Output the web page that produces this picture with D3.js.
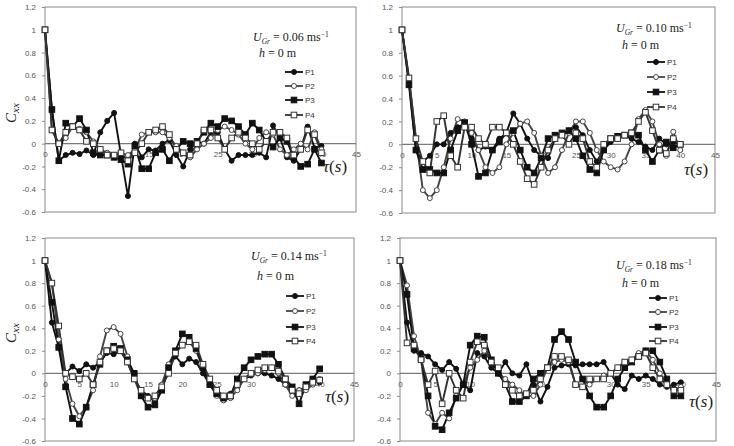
<!DOCTYPE html>
<html>
<head>
<meta charset="utf-8">
<script src="https://cdnjs.cloudflare.com/ajax/libs/d3/7.8.5/d3.min.js"></script>
<style>
body { margin: 0; background: #fff; }
.tick text { font-family: "Liberation Sans", Arial, sans-serif; font-size: 8px; fill: #555; }
</style>
</head>
<body>
<div id="chart"></div>
<script>
// lag times (s) and axis ticks
var tau = [0,1,2,3,4,5,6,7,8,9,10,11,12,13,14,15,16,17,18,19,20,
           21,22,23,24,25,26,27,28,29,30,31,32,33,34,35,36,37,38,39,40];
var xTicks = [0, 5, 10, 15, 20, 25, 30, 35, 40, 45];
var yTicks = [-0.6, -0.4, -0.2, 0, 0.2, 0.4, 0.6, 0.8, 1, 1.2];
var probes = ["P1", "P2", "P3", "P4"];
var speeds = ["0.06", "0.10", "0.14", "0.18"];

// U = 0.06 m/s
var p1_006 = [1,0.3,-0.15,-0.1,-0.08,-0.09,-0.06,-0.1,0.1,0.2,0.27,-0.1,-0.46,0,-0.12,-0.05,-0.06,0,0.03,-0.1,-0.2,-0.05,0.02,0,0.1,0.1,-0.05,-0.15,-0.1,-0.1,-0.1,-0.08,-0.12,0.16,0.05,-0.12,-0.15,-0.05,0.15,-0.04,-0.02];
var p2_006 = [1,0.12,0,0.05,0.15,0.13,0.1,0.02,-0.05,-0.08,-0.1,-0.08,-0.1,-0.05,0.08,0.1,0.1,0.1,0.05,-0.02,-0.08,-0.12,-0.05,0,0.05,0.12,0.15,0.12,0.08,0,-0.05,0.05,0.1,0.08,-0.05,-0.1,-0.05,0,-0.05,0.1,-0.05];
var p3_006 = [1,0.3,-0.15,0.18,0.15,0.22,0.12,-0.08,-0.1,-0.1,-0.12,-0.14,-0.18,-0.02,-0.22,-0.22,-0.08,-0.05,-0.15,-0.05,0.02,0,0.02,0.1,0.18,0.15,0.22,0.2,0.15,0.08,0.18,0.12,0.02,-0.03,0.05,0.02,-0.12,-0.2,-0.18,-0.05,-0.17];
var p4_006 = [1,0.12,0,0.1,0.15,0.12,0.02,0,-0.05,-0.1,-0.1,-0.08,-0.15,-0.08,0,0.1,0.12,0.15,0.08,-0.05,-0.08,-0.1,0,0.12,0.12,0.05,-0.05,0.05,0.1,0.05,0,-0.05,0.02,0.1,0.1,0.05,-0.1,-0.05,0.12,0.08,-0.08];

// U = 0.10 m/s
var p1_010 = [1,0.55,-0.05,-0.15,-0.1,0,0,0.1,0.15,0.18,0.05,-0.05,-0.02,-0.05,0.05,0.1,0.27,0.18,0.05,-0.05,-0.1,-0.12,0.05,0.08,0.12,0.15,0.08,-0.05,-0.15,-0.05,0.02,0.05,0.08,0.05,0.02,-0.02,-0.05,0.05,0,0.02,0];
var p2_010 = [1,0.58,0.05,-0.4,-0.47,-0.4,-0.2,0.05,0.22,0.2,0.1,-0.05,-0.2,-0.25,-0.2,0,0.1,0.18,0.2,0.1,-0.1,-0.25,-0.2,-0.05,0.1,0.2,0.2,0.1,-0.05,-0.15,-0.2,-0.22,-0.15,0,0.22,0.3,0.2,0,-0.1,0.11,-0.05];
var p3_010 = [1,0.52,-0.05,-0.22,-0.22,-0.25,-0.25,-0.05,0.12,0.19,0,-0.28,-0.25,-0.05,0.02,0.1,0.12,-0.05,-0.2,-0.25,-0.12,0.05,0.08,0.1,0.12,0.05,-0.1,-0.22,-0.25,-0.05,0.05,0.07,0.08,0.1,0.08,-0.05,-0.15,-0.05,0.02,-0.03,0];
var p4_010 = [1,0.58,0.05,-0.15,-0.25,0.2,0.25,-0.1,-0.2,0.15,0.15,0.05,0,0.15,0.15,0.1,0,-0.15,-0.3,-0.35,-0.2,-0.05,0.05,0.08,0,0.1,0.05,-0.15,-0.2,0,0.05,0.05,0.08,0.1,0.2,0.28,0.12,-0.05,-0.08,0.05,0];

// U = 0.14 m/s
var p1_014 = [1,0.45,0.23,0,0.06,0.02,0.08,0.05,0.1,0.18,0.17,0.2,0.1,-0.05,-0.15,-0.2,-0.25,-0.15,0.05,0.15,0.08,0.13,0.1,0,-0.1,-0.15,-0.2,-0.18,-0.12,-0.05,-0.02,0,0,-0.02,-0.05,-0.1,-0.15,-0.15,-0.12,-0.05,-0.08];
var p2_014 = [1,0.8,0.3,-0.05,-0.27,-0.38,-0.3,-0.15,0.15,0.38,0.41,0.35,0.15,-0.05,-0.2,-0.22,-0.22,-0.1,0.08,0.2,0.25,0.28,0.2,0.05,-0.1,-0.2,-0.24,-0.22,-0.15,-0.05,0,0,0.03,0.05,0,-0.1,-0.2,-0.15,-0.15,-0.1,-0.05];
var p3_014 = [1,0.63,0.23,-0.12,-0.4,-0.45,-0.3,-0.1,0.08,0.2,0.24,0.22,0.12,0,-0.2,-0.3,-0.28,-0.15,0.05,0.2,0.35,0.32,0.22,0.05,-0.1,-0.18,-0.22,-0.2,-0.05,0.05,0.12,0.15,0.17,0.17,0.08,-0.05,-0.12,-0.27,-0.1,-0.05,0.04];
var p4_014 = [1,0.8,0.42,0,-0.03,-0.05,0,-0.1,0.1,0.2,0.22,0.2,0.1,-0.05,-0.15,-0.22,-0.2,-0.12,0,0.18,0.25,0.28,0.25,0.08,-0.05,-0.15,-0.2,-0.2,-0.1,-0.05,0,0.03,0.05,0.05,0.02,-0.05,-0.15,-0.18,-0.12,-0.08,-0.06];

// U = 0.18 m/s
var p1_018 = [1,0.45,0.2,0.18,0.15,0.08,0.03,0.1,0.04,-0.1,-0.15,0.18,0.15,0.05,0,0.1,0,-0.02,0.08,-0.1,-0.25,-0.12,0.05,0.07,0.08,0.07,0.08,0.08,0.08,0.1,0,-0.1,-0.14,-0.02,-0.05,-0.02,-0.05,-0.1,-0.12,-0.1,-0.08];
var p2_018 = [1,0.78,0.33,0.12,-0.35,-0.45,-0.35,-0.4,-0.2,-0.1,0.05,0.12,0.2,0.1,0,-0.05,-0.1,-0.15,-0.2,-0.2,-0.1,0.05,0.1,0.12,0.1,-0.1,-0.12,-0.1,-0.05,-0.02,0,0.05,0.1,0.12,0.18,0.2,0.12,0,-0.1,-0.15,-0.12];
var p3_018 = [1,0.7,0.22,0.13,-0.2,-0.47,-0.5,-0.35,-0.22,-0.1,0.25,0.33,0.32,0.12,0,-0.1,-0.25,-0.25,-0.2,-0.05,0,0.05,0.3,0.37,0.3,0.1,-0.05,-0.2,-0.3,-0.3,-0.2,-0.05,0.05,0.1,0.15,0.2,0.2,0.1,-0.05,-0.2,-0.2];
var p4_018 = [1,0.27,0.25,0.12,-0.1,0.02,-0.27,0,-0.15,-0.22,0.1,0.28,0.25,0.1,0.05,-0.1,-0.15,-0.2,-0.18,-0.15,-0.05,0.05,0.15,0.15,0.12,-0.1,-0.12,-0.05,-0.05,-0.05,0,0.05,0.1,0.12,0.15,0.18,0.05,-0.05,-0.1,-0.15,-0.15];

var svg = d3.select("#chart")
  .append("svg")
  .attr("width", 734)
  .attr("height", 446)
  .style("background", "#fff");

// panel geometry (plot box + text positions)
var panels = [
  {speed: speeds[0], series: [p1_006, p2_006, p3_006, p4_006],
   x0: 45, x1: 356, y0: 7, y1: 212, lblX: 16, lblY: 113, clip: null,
   ux: 253, uy: 41, hy: 57, legX: 285, legY: [72, 86, 100, 115], tauX: 323, tauY: 172},
  {speed: speeds[1], series: [p1_010, p2_010, p3_010, p4_010],
   x0: 402, x1: 715, y0: 7, y1: 213, lblX: 364, lblY: 113, clip: 366,
   ux: 616, uy: 32, hy: 49, legX: 647, legY: [62, 77, 92, 107], tauX: 684, tauY: 175},
  {speed: speeds[2], series: [p1_014, p2_014, p3_014, p4_014],
   x0: 45, x1: 354, y0: 238, y1: 441, lblX: 16, lblY: 333, clip: null,
   ux: 251, uy: 260, hy: 280, legX: 286, legY: [296, 311, 327, 341], tauX: 325, tauY: 402},
  {speed: speeds[3], series: [p1_018, p2_018, p3_018, p4_018],
   x0: 400, x1: 716, y0: 238, y1: 441, lblX: 364, lblY: 336, clip: 366,
   ux: 616, uy: 269, hy: 287, legX: 649, legY: [298, 312, 327, 341], tauX: 689, tauY: 407}
];

var lineCol = ["#111", "#444", "#111", "#333"];

// draw one marker of probe k at (cx, cy)
function marker(g, k, cx, cy) {
  if (k === 0 || k === 1) {
    g.append("circle")
      .attr("cx", cx).attr("cy", cy).attr("r", 2.5)
      .attr("fill", k === 0 ? "#111" : "#fff")
      .attr("stroke", lineCol[k]).attr("stroke-width", 1);
  } else {
    g.append("rect")
      .attr("x", cx - 2.8).attr("y", cy - 2.8)
      .attr("width", 5.6).attr("height", 5.6)
      .attr("fill", k === 2 ? "#111" : "#fff")
      .attr("stroke", lineCol[k]).attr("stroke-width", 1);
  }
}

panels.forEach(function(p, pi) {
  var x = d3.scaleLinear().domain([0, 45]).range([p.x0, p.x1]);
  var y = d3.scaleLinear().domain([-0.6, 1.2]).range([p.y1, p.y0]);
  var g = svg.append("g");

  // plot box
  g.append("rect")
    .attr("x", p.x0).attr("y", p.y0)
    .attr("width", p.x1 - p.x0).attr("height", p.y1 - p.y0)
    .attr("fill", "none").attr("stroke", "#8a8a8a").attr("stroke-width", 1);

  // y axis labels
  var yAxis = d3.axisLeft(y).tickValues(yTicks).tickSize(3).tickPadding(6)
    .tickFormat(function(d) { return String(+d.toFixed(1)); });
  g.append("g")
    .attr("transform", `translate(${p.x0},0)`)
    .call(yAxis)
    .call(function(a) {
      a.select(".domain").remove();
      a.selectAll(".tick line").attr("stroke", "#8a8a8a");
    });

  // x axis labels sit under the zero line
  var xAxis = d3.axisBottom(x).tickValues(xTicks).tickSize(0).tickPadding(8);
  g.append("g")
    .attr("transform", `translate(0,${y(0)})`)
    .call(xAxis)
    .call(function(a) { a.select(".domain").remove(); });

  g.append("line")
    .attr("x1", p.x0).attr("x2", p.x1)
    .attr("y1", y(0)).attr("y2", y(0))
    .attr("stroke", "#7a7a7a").attr("stroke-width", 1.4);

  // series
  var line = d3.line()
    .x(function(d, i) { return x(tau[i]); })
    .y(function(d) { return y(d); });
  p.series.forEach(function(s, k) {
    g.append("path")
      .datum(s)
      .attr("d", line)
      .attr("fill", "none")
      .attr("stroke", lineCol[k])
      .attr("stroke-width", 1.9)
      .attr("stroke-linejoin", "round");
  });
  p.series.forEach(function(s, k) {
    s.forEach(function(v, i) { marker(g, k, x(tau[i]), y(v)); });
  });

  // y axis title C_xx (panels on the right are cut at the seam)
  var lbl = g.append("text")
    .attr("transform", `translate(${p.lblX},${p.lblY}) rotate(-90)`)
    .attr("text-anchor", "middle")
    .attr("font-family", "Liberation Serif, serif")
    .attr("font-style", "italic")
    .attr("font-size", 15)
    .attr("fill", "#222");
  lbl.append("tspan").text("C");
  lbl.append("tspan").attr("font-size", 11).attr("dy", 3).text("xx");
  if (p.clip !== null) {
    svg.append("clipPath").attr("id", "clip" + pi)
      .append("rect").attr("x", p.clip).attr("y", 0).attr("width", 40).attr("height", 446);
    lbl.attr("clip-path", `url(#clip${pi})`);
  }

  // speed annotation
  var t = g.append("text")
    .attr("x", p.ux).attr("y", p.uy)
    .attr("font-family", "Liberation Serif, serif")
    .attr("font-size", 12)
    .attr("fill", "#222");
  t.append("tspan").attr("font-style", "italic").text("U");
  t.append("tspan").attr("font-style", "italic").attr("font-size", 7.5).attr("dy", 2.5).text("Gr");
  t.append("tspan").attr("dy", -2.5).text(" = " + p.speed + " ms");
  t.append("tspan").attr("font-size", 7.5).attr("dy", -4).text("\u22121");

  var h = g.append("text")
    .attr("x", p.ux + 6).attr("y", p.hy)
    .attr("font-family", "Liberation Serif, serif")
    .attr("font-size", 12)
    .attr("fill", "#222");
  h.append("tspan").attr("font-style", "italic").text("h");
  h.append("tspan").text(" = 0 m");

  // legend
  probes.forEach(function(name, k) {
    var ly = p.legY[k];
    g.append("line")
      .attr("x1", p.legX).attr("x2", p.legX + 18)
      .attr("y1", ly).attr("y2", ly)
      .attr("stroke", lineCol[k]).attr("stroke-width", 1.8);
    marker(g, k, p.legX + 9, ly);
    g.append("text")
      .attr("x", p.legX + 20).attr("y", ly + 3)
      .attr("font-family", "Liberation Sans, Arial, sans-serif")
      .attr("font-size", 8)
      .attr("fill", "#333")
      .text(name);
  });

  // x axis title tau(s)
  var tt = g.append("text")
    .attr("x", p.tauX).attr("y", p.tauY)
    .attr("font-family", "Liberation Serif, serif")
    .attr("font-size", 17)
    .attr("fill", "#222");
  tt.append("tspan").attr("font-style", "italic").text("\u03c4");
  tt.append("tspan").text("(");
  tt.append("tspan").attr("font-style", "italic").text("s");
  tt.append("tspan").text(")");
});
</script>
</body>
</html>
